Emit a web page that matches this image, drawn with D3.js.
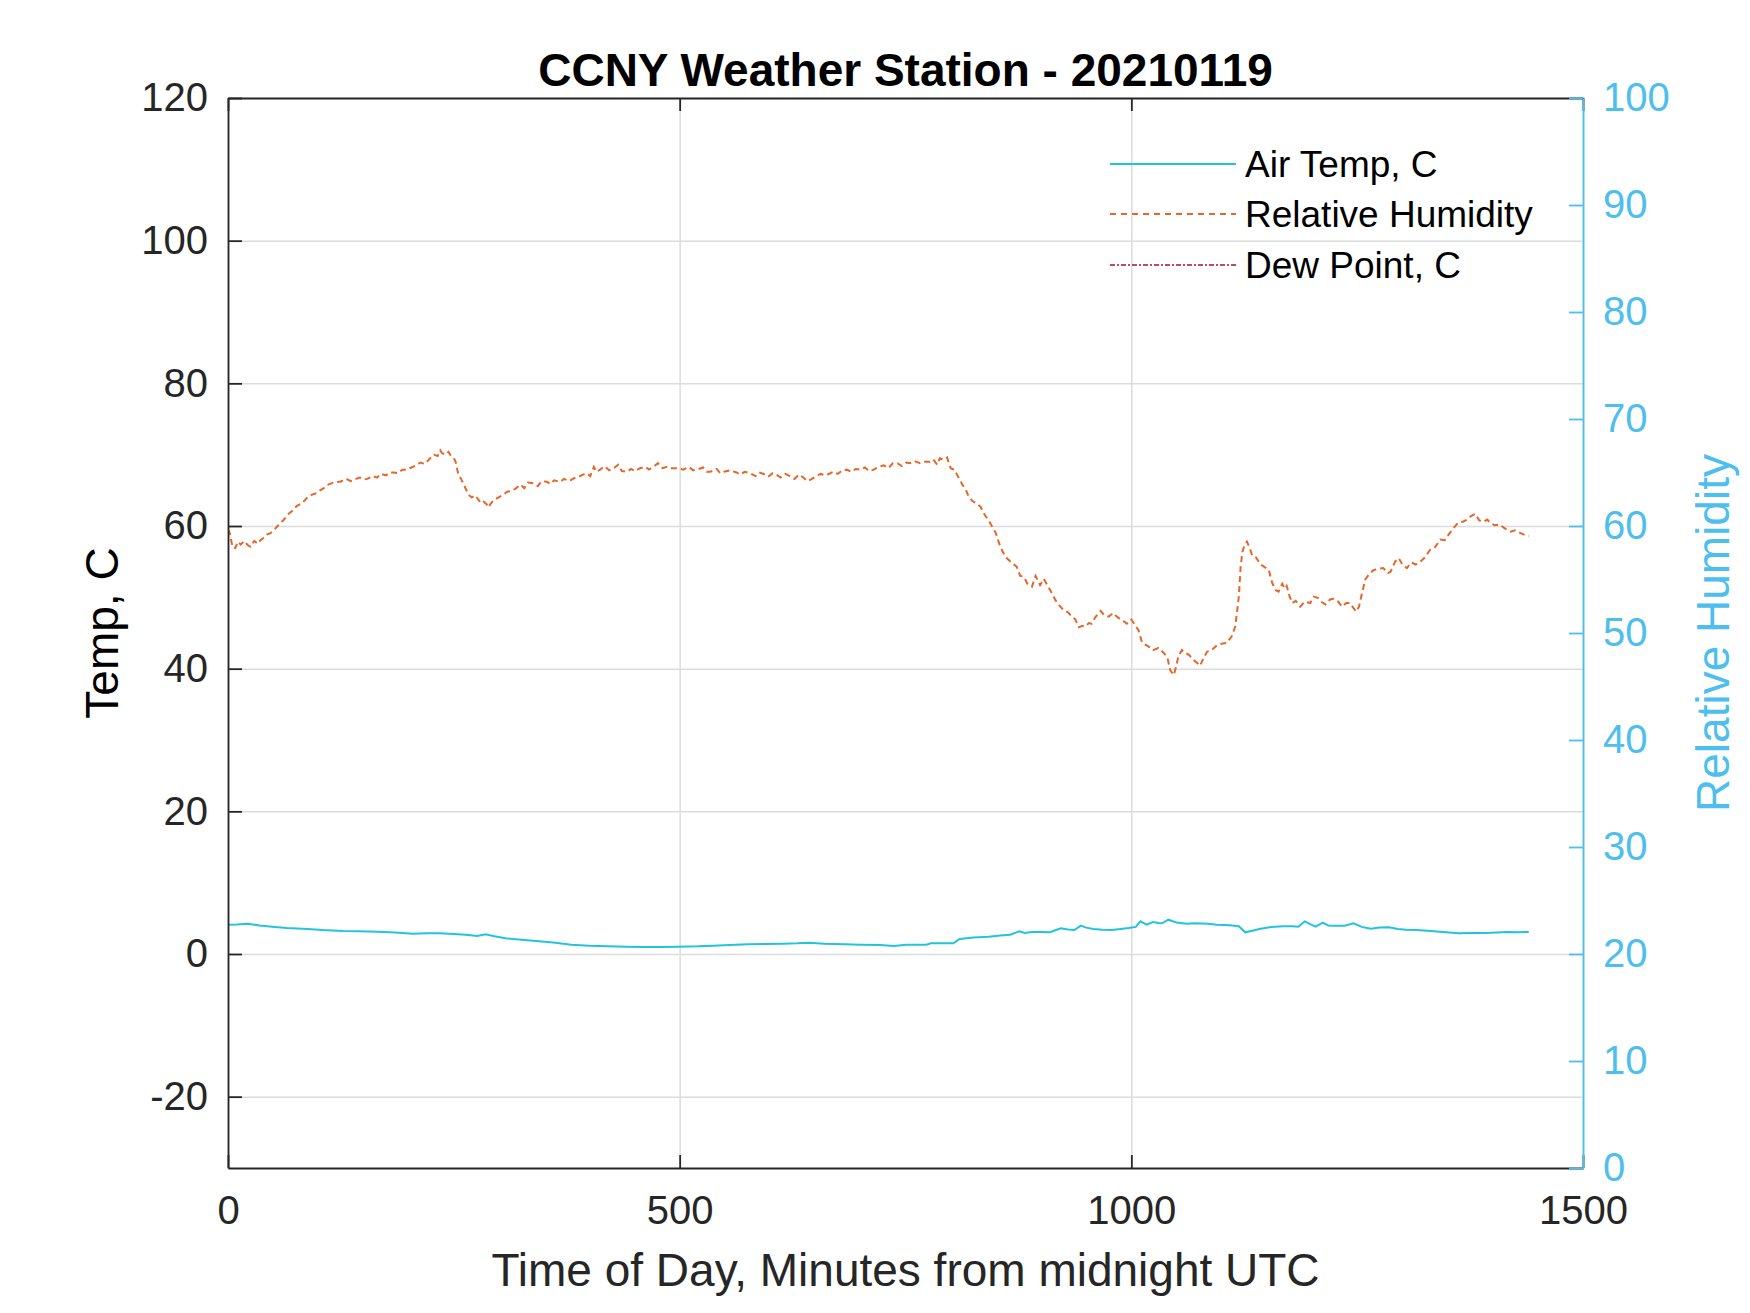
<!DOCTYPE html>
<html>
<head>
<meta charset="utf-8">
<script src="https://cdn.jsdelivr.net/npm/d3@7"></script>
<style>
  html, body { margin: 0; padding: 0; background: #fff; }
  svg { display: block; font-family: "Liberation Sans", Arial, Helvetica, sans-serif; }
</style>
</head>
<body>
<svg id="chart" width="1750" height="1313"></svg>
<script>
// ---------------- DATA ----------------
const titleText = "CCNY Weather Station - 20210119";
const xLabel = "Time of Day, Minutes from midnight UTC";
const yLabelLeft = "Temp, C";
const yLabelRight = "Relative Humidity";
const seriesNames = ["Air Temp, C", "Relative Humidity", "Dew Point, C"];

const xTicks = [0, 500, 1000, 1500];
const yTicksLeft = [-20, 0, 20, 40, 60, 80, 100, 120];
const yTicksRight = [0, 10, 20, 30, 40, 50, 60, 70, 80, 90, 100];

// Air temperature (C), minutes from midnight
const airMinutes = [0,10,22,35,49,65,88,105,127,145,166,185,205,220,234,250,263,276,285,295,307,325,341,360,380,400,420,440,459,480,498,520,537,555,576,595,615,630,644,660,683,700,722,737,751,773,778,803,810,825,842,855,866,876,882,890,900,910,915,922,930,937,944,950,958,968,978,988,997,1005,1010,1017,1024,1030,1034,1041,1050,1061,1070,1085,1095,1109,1119,1126,1135,1143,1155,1168,1178,1185,1192,1198,1204,1212,1218,1224,1236,1246,1255,1265,1275,1285,1295,1304,1315,1328,1345,1362,1375,1392,1405,1416,1428,1440];
const airTemp = [4.11,4.15,4.25,4.0,3.83,3.65,3.5,3.35,3.22,3.2,3.13,3.0,2.85,2.9,2.9,2.8,2.71,2.52,2.76,2.5,2.2,2.0,1.82,1.6,1.31,1.15,1.07,1.0,0.98,0.98,1.03,1.08,1.17,1.25,1.36,1.4,1.45,1.5,1.59,1.45,1.36,1.3,1.26,1.12,1.31,1.31,1.5,1.5,2.1,2.3,2.43,2.6,2.71,3.18,2.95,3.08,3.1,3.04,3.3,3.6,3.45,3.36,3.97,3.7,3.5,3.4,3.36,3.5,3.64,3.8,4.58,4.11,4.49,4.35,4.3,4.81,4.4,4.25,4.3,4.25,4.1,4.02,3.88,3.04,3.3,3.55,3.8,3.88,3.9,3.83,4.58,4.2,3.83,4.39,4.0,3.97,3.97,4.3,3.8,3.55,3.7,3.74,3.5,3.41,3.35,3.27,3.1,2.9,2.95,2.94,3.0,3.08,3.05,3.08];

// Relative humidity (plotted against the left scale), minutes from midnight
const rhMinutes = [0,2,5,8,11,14,18,22,25,29,33,36,40,43,47,52,57,62,66,71,76,82,87,93,98,102,106,111,117,124,131,136,139,146,150,154,160,165,169,175,179,183,188,193,198,203,208,213,218,223,228,232,235,237,241,244,247,250,252,255,258,261,264,266,270,273,276,280,283,286,288,290,294,298,302,306,309,313,318,324,328,332,338,343,347,353,357,361,368,372,378,383,388,393,397,401,405,408,412,417,422,427,432,436,442,446,451,456,462,466,471,476,481,486,491,497,504,510,515,519,526,530,534,541,545,549,556,563,567,572,578,584,588,593,598,603,607,612,617,622,627,632,637,641,645,650,656,662,670,675,680,685,690,695,700,705,710,715,720,726,731,736,741,746,751,755,760,766,771,777,781,785,788,792,796,800,804,807,810,813,817,820,824,828,833,838,842,846,850,853,855,858,862,867,873,877,881,885,890,894,899,903,908,912,916,920,925,930,934,938,942,946,949,953,956,960,966,970,975,980,984,988,992,995,1000,1002,1005,1008,1011,1013,1018,1024,1030,1036,1040,1043,1047,1050,1052,1056,1060,1064,1069,1073,1076,1080,1084,1089,1095,1100,1106,1108,1111,1115,1117,1119,1121,1123,1125,1128,1131,1134,1138,1143,1148,1152,1156,1160,1163,1167,1170,1172,1175,1178,1182,1187,1192,1198,1202,1207,1211,1215,1220,1224,1229,1233,1238,1242,1246,1249,1252,1255,1259,1263,1268,1273,1279,1284,1287,1292,1296,1300,1305,1310,1315,1320,1325,1331,1336,1342,1347,1353,1358,1362,1367,1372,1376,1381,1385,1390,1394,1397,1402,1408,1413,1420,1425,1431,1436,1440];
const rhValues = [59.5,59.0,57.0,56.9,57.8,57.4,57.9,57.3,57.1,57.9,57.5,58.0,58.4,58.8,59.0,59.6,60.3,60.9,61.6,62.1,62.8,63.2,63.9,64.4,64.6,65.0,65.3,65.8,66.1,66.2,66.6,66.3,66.5,66.8,66.5,66.6,67.0,66.8,67.3,67.1,67.5,67.5,67.4,67.9,67.9,68.2,68.5,68.9,68.7,69.4,70.0,69.8,70.6,70.2,70.0,70.4,69.8,69.5,69.0,67.2,66.6,65.8,65.0,64.4,64.0,64.3,63.9,63.2,63.4,63.1,62.6,63.0,63.6,63.9,64.2,64.5,64.8,64.9,65.2,65.8,65.3,66.1,66.0,65.6,66.3,66.2,65.9,66.4,66.2,66.6,66.3,66.7,66.9,67.2,67.4,67.0,68.3,67.6,67.9,68.4,67.8,68.1,68.6,67.7,67.6,68.0,67.7,68.1,68.3,67.9,68.3,68.8,68.1,68.3,68.1,68.1,67.9,68.3,67.8,67.9,68.2,67.6,67.6,68.0,67.4,67.6,67.8,67.5,67.2,67.6,67.4,67.0,67.5,67.3,66.9,67.4,67.2,66.8,67.3,67.0,66.6,67.2,66.8,66.3,66.5,66.9,67.3,67.1,67.6,67.3,67.8,67.9,67.6,68.0,67.9,68.2,67.7,67.9,68.3,68.5,68.1,68.8,68.8,68.4,68.9,68.8,69.1,68.8,69.0,69.0,69.3,68.6,69.5,69.3,69.6,68.1,67.9,67.2,66.5,65.8,65.0,64.1,63.5,63.2,62.7,61.5,60.8,59.9,59.0,57.8,57.1,56.3,55.5,54.9,54.3,53.0,52.9,51.9,51.5,53.0,51.7,52.6,51.5,50.6,49.6,48.9,48.2,47.9,47.3,46.9,45.8,46.0,45.9,46.4,46.3,47.2,48.1,47.5,47.3,47.8,47.3,46.9,46.6,46.3,46.9,46.5,45.9,45.4,44.0,43.5,43.2,42.6,42.9,42.2,41.5,39.8,39.1,40.5,41.7,42.6,42.2,41.9,41.2,40.8,40.4,41.5,42.4,42.6,43.3,43.5,43.6,44.0,44.5,45.9,48.0,50.1,54.3,56.4,57.2,57.8,56.9,55.8,55.6,54.6,54.2,53.9,52.0,51.0,50.8,51.9,51.2,51.6,50.2,49.2,49.5,48.7,49.4,49.2,50.1,49.9,49.3,49.0,49.7,49.8,49.4,48.7,49.2,49.2,48.5,48.0,48.7,50.4,52.5,53.2,53.8,54.0,54.1,53.4,53.6,55.0,55.5,54.6,54.1,54.9,54.6,55.0,55.6,56.7,57.0,58.1,58.0,59.1,59.9,60.5,60.6,60.9,61.4,61.7,60.8,60.6,60.9,60.5,60.1,60.2,59.7,59.2,59.4,59.0,58.7,58.6];

// Dew point: no values drawn in the plotted range (legend entry only)
const dewMinutes = [];
const dewValues = [];

// ---------------- LAYOUT / STYLE ----------------
const W = 1750, H = 1313;
const m = { left: 228, right: 1583, top: 98, bottom: 1168 };
const colAxis = "#262626";
const colRight = "#4DBEEE";
const colAir = "#22C4DD";
const colRH = "#E5672B";
const colDew = "#A2142F";
const colGrid = "#DCDCDC";

const svg = d3.select("#chart");
svg.append("rect").attr("width", W).attr("height", H).attr("fill", "#fff");

const x = d3.scaleLinear().domain([0, 1500]).range([m.left, m.right]);
const yL = d3.scaleLinear().domain([-30, 120]).range([m.bottom, m.top]);
const yR = d3.scaleLinear().domain([0, 100]).range([m.bottom, m.top]);

const pw = m.right - m.left, ph = m.bottom - m.top;
const fmt = d => (d < 0 ? "-" : "") + Math.abs(d);

// grid
svg.append("g").attr("transform", `translate(0,${m.bottom})`)
  .call(d3.axisBottom(x).tickValues(xTicks).tickSize(-ph).tickFormat(""))
  .call(g => g.select(".domain").remove())
  .call(g => g.selectAll("line").attr("stroke", colGrid).attr("stroke-width", 1.5));
svg.append("g").attr("transform", `translate(${m.left},0)`)
  .call(d3.axisLeft(yL).tickValues(yTicksLeft).tickSize(-pw).tickFormat(""))
  .call(g => g.select(".domain").remove())
  .call(g => g.selectAll("line").attr("stroke", colGrid).attr("stroke-width", 1.5));

// data lines
svg.append("clipPath").attr("id", "clip").append("rect")
  .attr("x", m.left).attr("y", m.top).attr("width", pw).attr("height", ph);
const plot = svg.append("g").attr("clip-path", "url(#clip)");

const airData = airMinutes.map((t, i) => [t, airTemp[i]]);
const rhData = rhMinutes.map((t, i) => [t, rhValues[i]]);
const dewData = dewMinutes.map((t, i) => [t, dewValues[i]]);
const lineL = d3.line().x(d => x(d[0])).y(d => yL(d[1]));

plot.append("path").datum(dewData).attr("d", lineL).attr("fill", "none")
  .attr("stroke", colDew).attr("stroke-width", 1.5).attr("stroke-dasharray", "6,3,2,3");
plot.append("path").datum(airData).attr("d", lineL).attr("fill", "none")
  .attr("stroke", colAir).attr("stroke-width", 2);
plot.append("path").datum(rhData).attr("d", lineL).attr("fill", "none")
  .attr("stroke", colRH).attr("stroke-width", 2).attr("stroke-dasharray", "6,4");

// axes
const fontTick = 40;
function styleAxis(g, color) {
  g.select(".domain").attr("stroke", color).attr("stroke-width", 1.8);
  g.selectAll(".tick line").attr("stroke", color).attr("stroke-width", 1.8);
  g.selectAll(".tick text").attr("fill", color).attr("font-size", fontTick)
    .attr("font-family", "'Liberation Sans', Arial, sans-serif");
}
// bottom
svg.append("g").attr("transform", `translate(0,${m.bottom})`)
  .call(d3.axisBottom(x).tickValues(xTicks).tickFormat(fmt).tickSizeInner(-13).tickSizeOuter(0).tickPadding(28))
  .call(g => styleAxis(g, colAxis));
// top
svg.append("g").attr("transform", `translate(0,${m.top})`)
  .call(d3.axisTop(x).tickValues(xTicks).tickSizeInner(-13).tickSizeOuter(0).tickFormat(""))
  .call(g => styleAxis(g, colAxis));
// left
svg.append("g").attr("transform", `translate(${m.left},0)`)
  .call(d3.axisLeft(yL).tickValues(yTicksLeft).tickFormat(fmt).tickSizeInner(-14).tickSizeOuter(0).tickPadding(20))
  .call(g => styleAxis(g, colAxis));
// right
svg.append("g").attr("transform", `translate(${m.right},0)`)
  .call(d3.axisRight(yR).tickValues(yTicksRight).tickFormat(fmt).tickSizeInner(-14).tickSizeOuter(0).tickPadding(20))
  .call(g => styleAxis(g, colRight));

// title and labels
svg.append("text").attr("x", (m.left + m.right) / 2).attr("y", 86)
  .attr("text-anchor", "middle").attr("font-size", 46).attr("font-weight", "bold")
  .attr("fill", "#000").text(titleText);
svg.append("text").attr("x", (m.left + m.right) / 2).attr("y", 1286)
  .attr("text-anchor", "middle").attr("font-size", 46).attr("fill", colAxis).text(xLabel);
svg.append("text").attr("transform", `translate(118,${(m.top + m.bottom) / 2}) rotate(-90)`)
  .attr("text-anchor", "middle").attr("font-size", 46).attr("fill", "#000").text(yLabelLeft);
svg.append("text").attr("transform", `translate(1729,${(m.top + m.bottom) / 2}) rotate(-90)`)
  .attr("text-anchor", "middle").attr("font-size", 46).attr("fill", colRight).text(yLabelRight);

// legend
const legY = [164, 214, 265];
const legStyles = [
  { c: colAir, dash: null, w: 2 },
  { c: colRH, dash: "6,5", w: 2 },
  { c: colDew, dash: "5,2,2,2", w: 1.5 }
];
const leg = svg.append("g");
seriesNames.forEach((name, i) => {
  leg.append("line").attr("x1", 1110).attr("x2", 1236).attr("y1", legY[i]).attr("y2", legY[i])
    .attr("stroke", legStyles[i].c).attr("stroke-width", legStyles[i].w)
    .attr("stroke-dasharray", legStyles[i].dash);
  leg.append("text").attr("x", 1245).attr("y", legY[i]).attr("dy", "0.35em")
    .attr("font-size", 37).attr("fill", "#000").text(name);
});
</script>
</body>
</html>
